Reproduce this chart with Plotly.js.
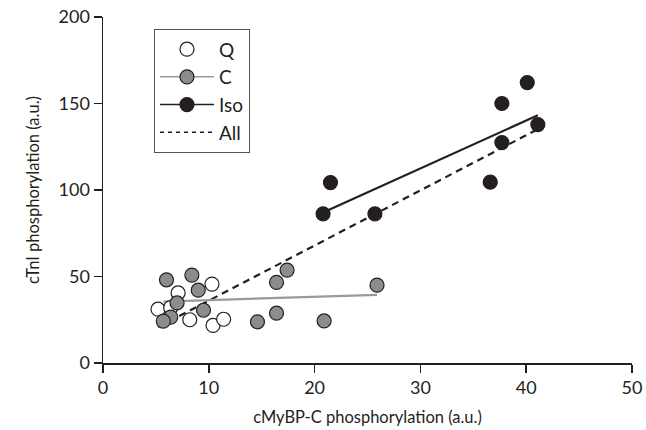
<!DOCTYPE html>
<html>
<head>
<meta charset="utf-8">
<script src="https://cdn.plot.ly/plotly-3.0.1.min.js"></script>
<style>html,body{margin:0;padding:0;background:#fff;}#chart{width:646px;height:430px;}</style>
</head>
<body>
<div id="chart"></div>
<script>
// Data
const qX = [5.2, 6.4, 7.1, 10.3, 8.2, 10.4, 11.4];
const qY = [31.1, 32.0, 40.5, 45.6, 25.0, 21.7, 25.3];
const cX = [6.0, 8.4, 9.0, 7.0, 9.5, 6.4, 5.7, 17.4, 16.4, 25.9, 16.4, 14.6, 20.9];
const cY = [48.1, 50.8, 42.1, 34.7, 30.5, 26.5, 24.2, 53.7, 46.6, 45.0, 28.8, 23.8, 24.3];
const isoX = [20.8, 21.5, 25.7, 36.6, 37.7, 37.7, 40.1, 41.1];
const isoY = [86.2, 104.3, 86.2, 104.5, 127.4, 150.0, 162.1, 137.8];
const xTicks = [0, 10, 20, 30, 40, 50];
const yTicks = [0, 50, 100, 150, 200];

function fit(xs, ys) {
  const n = xs.length;
  const mx = xs.reduce((a, b) => a + b, 0) / n;
  const my = ys.reduce((a, b) => a + b, 0) / n;
  let sxy = 0, sxx = 0;
  for (let i = 0; i < n; i++) { sxy += (xs[i] - mx) * (ys[i] - my); sxx += (xs[i] - mx) ** 2; }
  const b = sxy / sxx, a = my - b * mx;
  const x0 = Math.min(...xs), x1 = Math.max(...xs);
  return {x: [x0, x1], y: [a + b * x0, a + b * x1]};
}
const fC = fit(cX, cY);
const fIso = fit(isoX, isoY);
const fAll = fit(qX.concat(cX, isoX), qY.concat(cY, isoY));

const ink = '#231f20';
const grey = '#8c8c8c';
const ms = 14;

const traces = [
  {x: fAll.x, y: fAll.y, mode: 'lines', line: {color: ink, width: 2.2, dash: '7px,5px'}, showlegend: false, hoverinfo: 'skip'},
  {x: fC.x, y: fC.y, mode: 'lines', line: {color: '#9a9a9a', width: 2.2}, showlegend: false, hoverinfo: 'skip'},
  {x: fIso.x, y: fIso.y, mode: 'lines', line: {color: ink, width: 2.2}, showlegend: false, hoverinfo: 'skip'},
  {x: qX, y: qY, mode: 'markers', name: 'Q', marker: {size: ms, color: '#ffffff', line: {color: ink, width: 1.2}}},
  {x: cX, y: cY, mode: 'markers', name: 'C', showlegend: false, marker: {size: ms, color: grey, line: {color: ink, width: 1.2}}},
  {x: isoX, y: isoY, mode: 'markers', name: 'Iso', showlegend: false, marker: {size: ms, color: ink, line: {color: ink, width: 1.2}}},
  // legend-only entries
  {x: [null], y: [null], mode: 'lines+markers', name: 'C', marker: {size: ms, color: grey, line: {color: ink, width: 1.2}}, line: {color: '#9a9a9a', width: 1.5}},
  {x: [null], y: [null], mode: 'lines+markers', name: 'Iso', marker: {size: ms, color: ink, line: {color: ink, width: 1.2}}, line: {color: ink, width: 1.5}},
  {x: [null], y: [null], mode: 'lines', name: 'All', line: {color: ink, width: 1.5, dash: '4px,4px'}}
];

const fam = 'Lato, "Open Sans", sans-serif';

const layout = {
  width: 646, height: 430,
  margin: {l: 103, r: 13.5, t: 17, b: 67},
  paper_bgcolor: '#fff', plot_bgcolor: '#fff',
  font: {family: fam, size: 18, color: ink},
  showlegend: true,
  legend: {
    x: 0.096, y: 0.965, xanchor: 'left', yanchor: 'top',
    bgcolor: '#fff', bordercolor: '#555', borderwidth: 1.2,
    font: {family: fam, size: 19, color: ink},
    itemwidth: 54, tracegroupgap: 0
  },
  xaxis: {
    range: [0, 50], tickvals: xTicks, ticktext: xTicks.map(String),
    showgrid: false, zeroline: false, showline: true, linecolor: ink, linewidth: 1.5,
    ticks: 'outside', ticklen: 8, tickwidth: 1.5, tickcolor: ink,
    tickfont: {size: 18}, fixedrange: true,
    title: {text: 'cMyBP-C phosphorylation (a.u.)', font: {size: 16.5}, standoff: 14}
  },
  yaxis: {
    range: [0, 200], tickvals: yTicks, ticktext: yTicks.map(String),
    showgrid: false, zeroline: false, showline: true, linecolor: ink, linewidth: 1.5,
    ticks: 'outside', ticklen: 8, tickwidth: 1.5, tickcolor: ink,
    tickfont: {size: 18}, fixedrange: true,
    title: {text: 'cTnI phosphorylation (a.u.)', font: {size: 16.5}, standoff: 15}
  }
};

Plotly.newPlot('chart', traces, layout, {displayModeBar: false, staticPlot: true});
</script>
</body>
</html>
